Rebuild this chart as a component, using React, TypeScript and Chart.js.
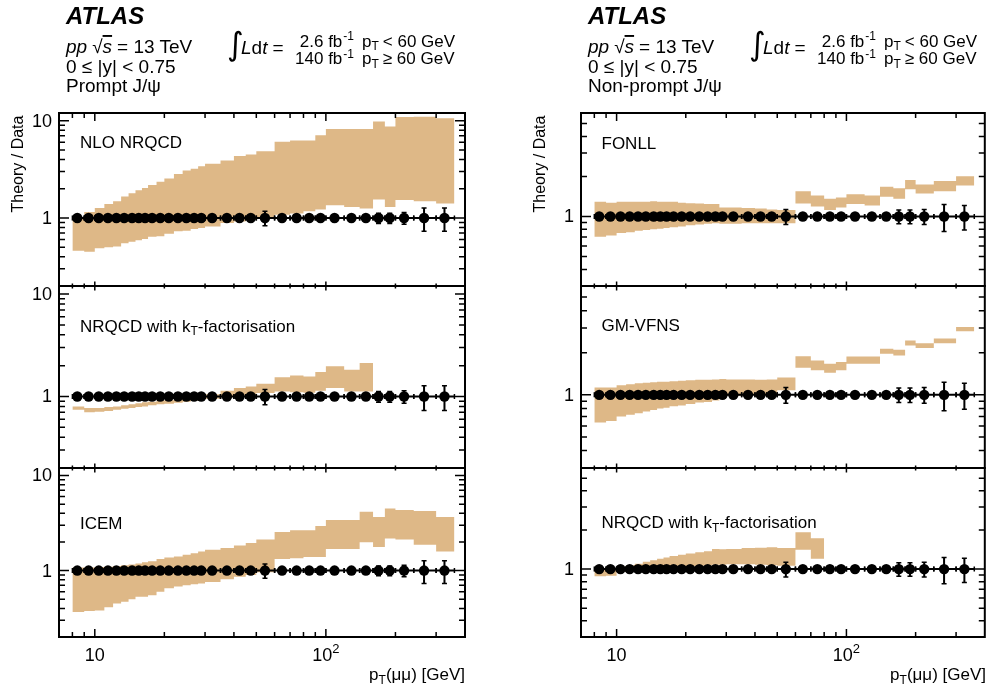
import React, { useEffect, useRef } from "react";
import { Chart, registerables } from "chart.js";
Chart.register(...registerables);

// ---------------- data ----------------
const BIN_EDGES = [8, 9, 10, 11, 12, 13, 14, 15, 16, 17, 18.5, 20, 22, 24, 26, 28, 30, 35, 40, 45, 50, 60, 70, 80, 90, 100, 120, 140, 160, 180, 200, 240, 300, 360];
const PT_MEAN = [8.4, 9.4, 10.4, 11.4, 12.4, 13.4, 14.5, 15.5, 16.5, 17.7, 19.2, 20.9, 22.9, 24.9, 26.9, 28.9, 32.2, 37.3, 42.3, 47.3, 54.5, 64.6, 74.7, 84.7, 94.8, 109, 129, 149, 169, 189, 218, 266, 326];

const PROMPT_RATIO = [1, 1, 1, 1, 1, 1, 1, 1, 1, 1, 1, 1, 1, 1, 1, 1, 1, 1, 1, 1, 1, 1, 1, 1, 1, 1, 1, 1, 1, 1, 1, 1, 1];
const PROMPT_ERR = [0.02, 0.02, 0.02, 0.02, 0.02, 0.02, 0.02, 0.02, 0.02, 0.02, 0.02, 0.02, 0.02, 0.02, 0.02, 0.02, 0.02, 0.02, 0.02, 0.03, 0.17, 0.03, 0.03, 0.04, 0.04, 0.04, 0.04, 0.05, 0.12, 0.12, 0.14, 0.27, 0.27];
const NONPROMPT_RATIO = [1, 1, 1, 1, 1, 1, 1, 1, 1, 1, 1, 1, 1, 1, 1, 1, 1, 1, 1, 1, 1, 1, 1, 1, 1, 1, 1, 1, 1, 1, 1, 1, 1];
const NONPROMPT_ERR = [0.02, 0.02, 0.02, 0.02, 0.02, 0.02, 0.02, 0.02, 0.02, 0.02, 0.02, 0.02, 0.02, 0.02, 0.02, 0.02, 0.02, 0.02, 0.02, 0.03, 0.13, 0.03, 0.03, 0.04, 0.04, 0.04, 0.05, 0.05, 0.12, 0.12, 0.13, 0.23, 0.21];

// prompt theory bands (lower / upper edge per pT bin)
const NLO_NRQCD_LO = [0.46, 0.45, 0.49, 0.50, 0.51, 0.55, 0.57, 0.59, 0.61, 0.64, 0.65, 0.69, 0.73, 0.74, 0.77, 0.79, 0.82, 0.89, 0.92, 0.96, 1.02, 1.08, 1.11, 1.17, 1.22, 1.35, 1.30, 1.25, 1.55, 1.30, 1.53, 1.49, 1.41];
const NLO_NRQCD_HI = [1.02, 1.15, 1.27, 1.39, 1.49, 1.66, 1.80, 1.93, 2.03, 2.18, 2.36, 2.55, 2.84, 3.07, 3.20, 3.41, 3.60, 3.90, 4.34, 4.50, 4.85, 6.07, 6.27, 6.27, 7.10, 8.20, 8.20, 8.20, 9.80, 8.70, 10.9, 11.0, 10.6];
const KT_PROMPT_LO = [0.74, 0.70, 0.71, 0.72, 0.74, 0.76, 0.77, 0.79, 0.80, 0.82, 0.84, 0.85, 0.87, 0.89, 0.91, 0.92, 0.95, 0.98, 1.02, 1.04, 1.08, 1.12, 1.10, 1.09, 1.14, 1.21, 1.12, 1.12];
const KT_PROMPT_HI = [0.80, 0.77, 0.77, 0.79, 0.80, 0.82, 0.84, 0.86, 0.88, 0.89, 0.91, 0.92, 0.94, 0.97, 0.99, 1.00, 1.05, 1.14, 1.21, 1.25, 1.33, 1.54, 1.60, 1.57, 1.73, 1.97, 1.82, 2.12];
const ICEM_LO = [0.366, 0.375, 0.38, 0.41, 0.45, 0.47, 0.50, 0.53, 0.53, 0.55, 0.60, 0.65, 0.68, 0.70, 0.72, 0.73, 0.76, 0.81, 0.86, 0.90, 0.96, 1.32, 1.35, 1.39, 1.39, 1.69, 1.69, 1.98, 1.77, 2.17, 2.12, 1.87, 1.59];
const ICEM_HI = [1.08, 1.08, 1.09, 1.10, 1.12, 1.14, 1.16, 1.19, 1.22, 1.25, 1.32, 1.37, 1.41, 1.47, 1.52, 1.59, 1.66, 1.73, 1.83, 1.95, 2.12, 2.54, 2.66, 2.66, 2.94, 3.40, 3.40, 4.17, 3.66, 4.50, 4.35, 4.24, 3.66];

// non-prompt theory bands
const FONLL_LO = [0.705, 0.72, 0.75, 0.76, 0.78, 0.79, 0.80, 0.81, 0.82, 0.83, 0.84, 0.86, 0.87, 0.88, 0.89, 0.88, 0.88, 0.89, 0.89, 0.89, 0.89, 1.25, 1.19, 1.12, 1.17, 1.24, 1.21, 1.41, 1.36, 1.60, 1.49, 1.55, 1.71];
const FONLL_HI = [1.29, 1.27, 1.29, 1.29, 1.29, 1.29, 1.30, 1.29, 1.29, 1.29, 1.27, 1.26, 1.25, 1.24, 1.24, 1.17, 1.17, 1.16, 1.15, 1.13, 1.12, 1.55, 1.44, 1.36, 1.39, 1.47, 1.44, 1.67, 1.63, 1.88, 1.74, 1.85, 2.01];
const GMVFNS_LO = [0.635, 0.65, 0.70, 0.72, 0.74, 0.76, 0.78, 0.80, 0.81, 0.83, 0.84, 0.86, 0.88, 0.89, 0.91, 0.94, 0.98, 1.00, 1.00, 1.01, 1.08, 1.56, 1.50, 1.44, 1.50, 1.67, 1.67, 1.97, 1.91, 2.25, 2.16, 2.34, 2.85];
const GMVFNS_HI = [1.13, 1.13, 1.17, 1.19, 1.21, 1.22, 1.23, 1.24, 1.24, 1.25, 1.26, 1.27, 1.28, 1.28, 1.29, 1.30, 1.29, 1.29, 1.28, 1.29, 1.33, 1.89, 1.76, 1.67, 1.72, 1.88, 1.88, 2.14, 2.10, 2.45, 2.34, 2.53, 3.06];
const KT_NONPROMPT_LO = [0.88, 0.89, 0.95, 0.97, 0.98, 0.99, 1.00, 1.01, 1.02, 1.03, 1.04, 1.05, 1.06, 1.07, 1.08, 1.08, 1.09, 1.09, 1.08, 1.07, 1.06, 1.41, 1.20];
const KT_NONPROMPT_HI = [1.00, 1.00, 1.04, 1.07, 1.10, 1.14, 1.17, 1.20, 1.23, 1.26, 1.29, 1.32, 1.35, 1.37, 1.43, 1.42, 1.43, 1.45, 1.46, 1.47, 1.45, 1.92, 1.73];

// axis ticks
const X_RANGE = [7, 400];
const X_TICKS = [8, 9, 10, 20, 30, 40, 50, 60, 70, 80, 90, 100, 200, 300];
const X_MAJOR = [10, 100];
const Y_RANGE_PROMPT = [0.2, 12];
const Y_RANGE_NONPROMPT = [0.3, 6];
const Y_TICKS_PROMPT = [0.2, 0.3, 0.4, 0.5, 0.6, 0.7, 0.8, 0.9, 1, 2, 3, 4, 5, 6, 7, 8, 9, 10];
const Y_TICKS_NONPROMPT = [0.3, 0.4, 0.5, 0.6, 0.7, 0.8, 0.9, 1, 2, 3, 4, 5, 6];
const Y_MAJOR = [1, 10];
const Y_LABELS_PROMPT = [1, 10];
const Y_LABELS_NONPROMPT = [1];

// ---------------- layout / style ----------------
const W = 990;
const H = 691;
const COLS = [
  { left: 59, right: 465 },
  { left: 581, right: 986 },
];
const ROWS = [
  { top: 113, bottom: 286 },
  { top: 286, bottom: 468 },
  { top: 468, bottom: 637 },
];
const BAND = "#deb887";
const FONT = "'Liberation Sans', Arial, Helvetica, sans-serif";

type PanelCfg = {
  col: number;
  row: number;
  lo: number[];
  hi: number[];
  ratio: number[];
  err: number[];
  yRange: number[];
  yTicks: number[];
  yLabels: number[];
};

const PANELS: PanelCfg[] = [
  { col: 0, row: 0, lo: NLO_NRQCD_LO, hi: NLO_NRQCD_HI, ratio: PROMPT_RATIO, err: PROMPT_ERR, yRange: Y_RANGE_PROMPT, yTicks: Y_TICKS_PROMPT, yLabels: Y_LABELS_PROMPT },
  { col: 0, row: 1, lo: KT_PROMPT_LO, hi: KT_PROMPT_HI, ratio: PROMPT_RATIO, err: PROMPT_ERR, yRange: Y_RANGE_PROMPT, yTicks: Y_TICKS_PROMPT, yLabels: Y_LABELS_PROMPT },
  { col: 0, row: 2, lo: ICEM_LO, hi: ICEM_HI, ratio: PROMPT_RATIO, err: PROMPT_ERR, yRange: Y_RANGE_PROMPT, yTicks: Y_TICKS_PROMPT, yLabels: Y_LABELS_PROMPT },
  { col: 1, row: 0, lo: FONLL_LO, hi: FONLL_HI, ratio: NONPROMPT_RATIO, err: NONPROMPT_ERR, yRange: Y_RANGE_NONPROMPT, yTicks: Y_TICKS_NONPROMPT, yLabels: Y_LABELS_NONPROMPT },
  { col: 1, row: 1, lo: GMVFNS_LO, hi: GMVFNS_HI, ratio: NONPROMPT_RATIO, err: NONPROMPT_ERR, yRange: Y_RANGE_NONPROMPT, yTicks: Y_TICKS_NONPROMPT, yLabels: Y_LABELS_NONPROMPT },
  { col: 1, row: 2, lo: KT_NONPROMPT_LO, hi: KT_NONPROMPT_HI, ratio: NONPROMPT_RATIO, err: NONPROMPT_ERR, yRange: Y_RANGE_NONPROMPT, yTicks: Y_TICKS_NONPROMPT, yLabels: Y_LABELS_NONPROMPT },
];

function steps(vals: number[]) {
  const pts = vals.map((v, i) => ({ x: BIN_EDGES[i], y: v }));
  pts.push({ x: BIN_EDGES[vals.length], y: vals[vals.length - 1] });
  return pts;
}

function makeFramePlugin(p: PanelCfg) {
  return {
    id: "atlasFrame",
    afterDraw(chart: any) {
      const { ctx, chartArea: a } = chart;
      const xs = chart.scales.x;
      const ys = chart.scales.y;
      ctx.save();
      ctx.strokeStyle = "#000";
      ctx.fillStyle = "#000";
      ctx.lineCap = "butt";

      // error bars
      PT_MEAN.forEach((pt, i) => {
        const v = p.ratio[i];
        const e = p.err[i];
        const y = ys.getPixelForValue(v);
        const x = xs.getPixelForValue(pt);
        const xl = xs.getPixelForValue(BIN_EDGES[i]);
        const xr = xs.getPixelForValue(BIN_EDGES[i + 1]);
        const yt = ys.getPixelForValue(v * (1 + e));
        const yb = ys.getPixelForValue(v * (1 - e));
        ctx.lineWidth = 2;
        ctx.beginPath();
        ctx.moveTo(xl, y);
        ctx.lineTo(xr, y);
        ctx.moveTo(x, yt);
        ctx.lineTo(x, yb);
        ctx.stroke();
        ctx.lineWidth = 1.5;
        ctx.beginPath();
        ctx.moveTo(xl, y - 2.5);
        ctx.lineTo(xl, y + 2.5);
        ctx.moveTo(xr, y - 2.5);
        ctx.lineTo(xr, y + 2.5);
        ctx.moveTo(x - 2.5, yt);
        ctx.lineTo(x + 2.5, yt);
        ctx.moveTo(x - 2.5, yb);
        ctx.lineTo(x + 2.5, yb);
        ctx.stroke();
      });

      // frame
      ctx.lineWidth = 2;
      ctx.strokeRect(a.left, a.top, a.right - a.left, a.bottom - a.top);

      // ticks
      ctx.lineWidth = 1.5;
      const topLen = p.row === 0 ? [8, 5] : [4.5, 2.5];
      const botLen = p.row === 2 ? [8, 5] : [4.5, 2.5];
      ctx.beginPath();
      X_TICKS.forEach((t) => {
        const px = xs.getPixelForValue(t);
        const m = X_MAJOR.includes(t) ? 0 : 1;
        ctx.moveTo(px, a.top);
        ctx.lineTo(px, a.top + topLen[m]);
        ctx.moveTo(px, a.bottom);
        ctx.lineTo(px, a.bottom - botLen[m]);
      });
      p.yTicks.forEach((t) => {
        const py = ys.getPixelForValue(t);
        const len = Y_MAJOR.includes(t) ? 10 : 6;
        ctx.moveTo(a.left, py);
        ctx.lineTo(a.left + len, py);
        ctx.moveTo(a.right, py);
        ctx.lineTo(a.right - len, py);
      });
      ctx.stroke();

      // y tick labels
      ctx.font = `18px ${FONT}`;
      ctx.textAlign = "right";
      ctx.textBaseline = "middle";
      p.yLabels.forEach((t) => {
        ctx.fillText(String(t), a.left - 7, ys.getPixelForValue(t) + 1);
      });

      // x tick labels (bottom row only)
      if (p.row === 2) {
        ctx.textBaseline = "alphabetic";
        ctx.textAlign = "left";
        X_MAJOR.forEach((t) => {
          const px = xs.getPixelForValue(t);
          const exp = Math.round(Math.log10(t));
          ctx.font = `18px ${FONT}`;
          const w1 = ctx.measureText("10").width;
          if (exp === 1) {
            ctx.fillText("10", px - w1 / 2, a.bottom + 24);
          } else {
            ctx.font = `13px ${FONT}`;
            const w2 = ctx.measureText(String(exp)).width;
            const x0 = px - (w1 + w2) / 2;
            ctx.fillText(String(exp), x0 + w1, a.bottom + 16);
            ctx.font = `18px ${FONT}`;
            ctx.fillText("10", x0, a.bottom + 24);
          }
        });
      }
      ctx.restore();
    },
  };
}

function Panel({ p }: { p: PanelCfg }) {
  const ref = useRef<HTMLCanvasElement>(null);
  useEffect(() => {
    const col = COLS[p.col];
    const row = ROWS[p.row];
    const chart = new Chart(ref.current as HTMLCanvasElement, {
      type: "line",
      data: {
        datasets: [
          {
            label: "theory upper",
            data: steps(p.hi),
            stepped: true,
            fill: "+1",
            backgroundColor: BAND,
            borderColor: "rgba(0,0,0,0)",
            borderWidth: 0,
            pointRadius: 0,
            order: 2,
          } as any,
          {
            label: "theory lower",
            data: steps(p.lo),
            stepped: true,
            fill: false,
            borderColor: "rgba(0,0,0,0)",
            borderWidth: 0,
            pointRadius: 0,
            order: 2,
          } as any,
          {
            type: "scatter",
            label: "data",
            data: PT_MEAN.map((x, i) => ({ x, y: p.ratio[i] })),
            pointRadius: 5.2,
            pointBackgroundColor: "#000",
            pointBorderColor: "#000",
            pointBorderWidth: 0,
            showLine: false,
            order: 0,
          } as any,
        ],
      },
      options: {
        responsive: false,
        animation: false,
        events: [],
        layout: {
          padding: { left: col.left, right: W - col.right, top: row.top, bottom: H - row.bottom },
        },
        plugins: { legend: { display: false }, tooltip: { enabled: false }, title: { display: false } },
        scales: {
          x: { type: "logarithmic", min: X_RANGE[0], max: X_RANGE[1], display: false, bounds: "data" },
          y: { type: "logarithmic", min: p.yRange[0], max: p.yRange[1], display: false, bounds: "data" },
        },
      } as any,
      plugins: [makeFramePlugin(p)],
    });
    return () => chart.destroy();
  }, []);
  return <canvas ref={ref} width={W} height={H} style={{ position: "absolute", left: 0, top: 0 }} />;
}

function KtLabel({ x, y }: { x: number; y: number }) {
  return (
    <text x={x} y={y} fontSize={17}>
      NRQCD with k<tspan fontSize={12} dy={3.5}>T</tspan>
      <tspan dy={-3.5}>-factorisation</tspan>
    </text>
  );
}

function Header({ dx, sample }: { dx: number; sample: string }) {
  return (
    <g transform={`translate(${dx},0)`}>
      <text x={66} y={23.5} fontSize={24} fontWeight="bold" fontStyle="italic">ATLAS</text>
      <text x={66} y={53} fontSize={19}>
        <tspan fontStyle="italic">pp</tspan>
        <tspan dx={5}>√</tspan>
        <tspan fontStyle="italic" textDecoration="overline">s</tspan>
        <tspan dx={5}>= 13 TeV</tspan>
      </text>
      <text x={66} y={72.5} fontSize={19}>0 ≤ |y| &lt; 0.75</text>
      <text x={66} y={92} fontSize={19}>{sample}</text>
      <text x={227} y={55} fontSize={32} fontFamily="'DejaVu Sans', sans-serif">∫</text>
      <text x={241} y={53.5} fontSize={19}>
        <tspan fontStyle="italic">L</tspan>d<tspan fontStyle="italic">t</tspan>
        <tspan dx={5}>=</tspan>
      </text>
      <text x={354} y={46.7} fontSize={17} textAnchor="end">
        2.6 fb<tspan fontSize={12} dy={-6.5} dx={1}>-1</tspan>
      </text>
      <text x={354} y={64} fontSize={17} textAnchor="end">
        140 fb<tspan fontSize={12} dy={-6.5} dx={1}>-1</tspan>
      </text>
      <text x={362} y={46.7} fontSize={17}>
        p<tspan fontSize={12} dy={3.5}>T</tspan>
        <tspan dy={-3.5} dx={4}>&lt; 60 GeV</tspan>
      </text>
      <text x={362} y={64} fontSize={17}>
        p<tspan fontSize={12} dy={3.5}>T</tspan>
        <tspan dy={-3.5} dx={4}>≥ 60 GeV</tspan>
      </text>
    </g>
  );
}

function Overlay() {
  return (
    <svg width={W} height={H} style={{ position: "absolute", left: 0, top: 0, pointerEvents: "none" }} fontFamily={FONT} fill="#000">
      <Header dx={0} sample="Prompt J/ψ" />
      <Header dx={522} sample="Non-prompt J/ψ" />
      <text x={80} y={148.3} fontSize={17}>NLO NRQCD</text>
      <KtLabel x={80} y={331.7} />
      <text x={80} y={529.3} fontSize={17}>ICEM</text>
      <text x={601.5} y={149} fontSize={17}>FONLL</text>
      <text x={601.5} y={331} fontSize={17}>GM-VFNS</text>
      <KtLabel x={601.5} y={528.3} />
      <text transform="translate(23,164) rotate(-90)" textAnchor="middle" fontSize={16}>Theory / Data</text>
      <text transform="translate(544.5,164) rotate(-90)" textAnchor="middle" fontSize={16}>Theory / Data</text>
      <text x={465} y={680} fontSize={17} textAnchor="end">
        p<tspan fontSize={12} dy={4}>T</tspan>
        <tspan dy={-4}>(μμ) [GeV]</tspan>
      </text>
      <text x={986} y={680} fontSize={17} textAnchor="end">
        p<tspan fontSize={12} dy={4}>T</tspan>
        <tspan dy={-4}>(μμ) [GeV]</tspan>
      </text>
    </svg>
  );
}

export default function App() {
  return (
    <div style={{ position: "absolute", left: 0, top: 0, width: W, height: H, background: "#fff" }}>
      {PANELS.map((p, i) => (
        <Panel key={i} p={p} />
      ))}
      <Overlay />
    </div>
  );
}
